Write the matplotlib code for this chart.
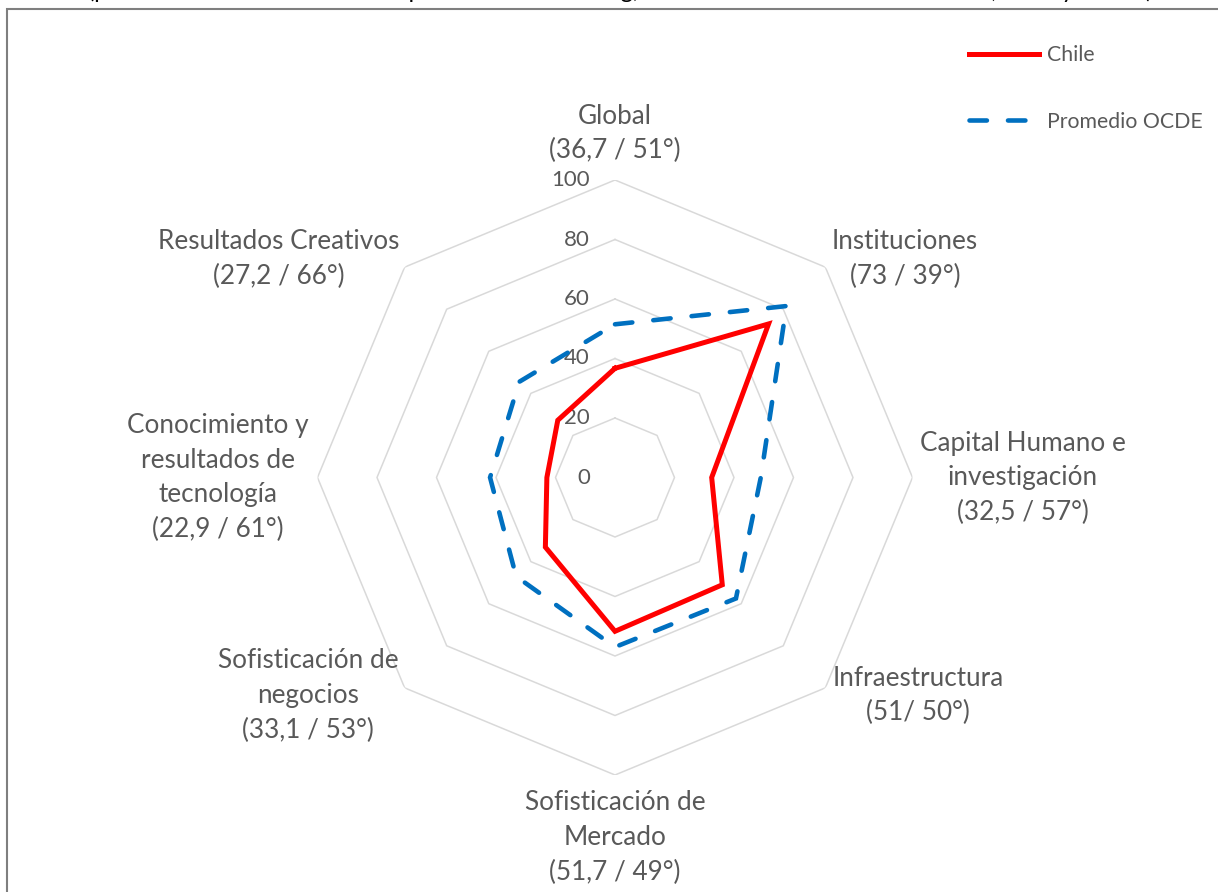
import numpy as np
import matplotlib
matplotlib.use("Agg")
import matplotlib.pyplot as plt
from matplotlib.patches import Rectangle
from matplotlib.lines import Line2D
from matplotlib import transforms

plt.rcParams['font.family'] = ['Lato', 'DejaVu Sans']

# ---- data ----
categories = [
    ["Global", "(36,7 / 51°)"],
    ["Instituciones", "(73 / 39°)"],
    ["Capital Humano e", "investigación", "(32,5 / 57°)"],
    ["Infraestructura", "(51/ 50°)"],
    ["Sofisticación de", "Mercado", "(51,7 / 49°)"],
    ["Sofisticación de", "negocios", "(33,1 / 53°)"],
    ["Conocimiento y", "resultados de", "tecnología", "(22,9 / 61°)"],
    ["Resultados Creativos", "(27,2 / 66°)"],
]
chile = [36.7, 73, 32.5, 51, 51.7, 33.1, 22.9, 27.2]
ocde = [51.5, 81.5, 49, 57.5, 57, 47, 42, 45.5]
series_names = ["Chile", "Promedio OCDE"]
rings = [20, 40, 60, 80, 100]
tick_values = [0, 20, 40, 60, 80, 100]
title_text = "(puntos obtenidos sobre 100 / posición en el ranking, Índice Global de Innovación 2019, Chile y OCDE)"

W, H = 1218, 892
fig = plt.figure(figsize=(W / 100, H / 100), dpi=100)

def fx(px):
    return px / W

def fy(py):
    return 1 - py / H

# frame
fig.patches.append(Rectangle((fx(7), -0.2), 1.5, fy(9) + 0.2, transform=fig.transFigure,
                             fill=False, edgecolor="#7F7F7F", linewidth=1.5, zorder=0))

# title (clipped at top, as in the source)
fig.text(fx(620), fy(-2), title_text, ha="center", va="baseline", fontsize=17, color="black")

# polar axes
cx, cy, R = 615, 477.5, 297.5
ax = fig.add_axes([fx(cx - R), fy(cy + R), 2 * R / W, 2 * R / H], projection="polar")
ax.set_theta_zero_location("N")
ax.set_theta_direction(-1)
ax.set_ylim(0, 100)
ax.set_axis_off()

n = len(categories)
theta = np.linspace(0, 2 * np.pi, n, endpoint=False)
theta_c = np.append(theta, theta[0])

for r in rings:
    ax.plot(theta_c, [r] * (n + 1), color="#D9D9D9", lw=1.1, zorder=1)

off = transforms.offset_copy(ax.transData, fig=fig, x=-25, y=0, units="dots")
for v in tick_values:
    ax.text(0, v, str(v), transform=off, ha="right", va="center", fontsize=16, color="#595959")

l1, = ax.plot(theta_c, chile + [chile[0]], color="#FF0000", lw=3.6, solid_joinstyle="miter",
              zorder=3, label=series_names[0])
l2, = ax.plot(theta_c, ocde + [ocde[0]], color="#0070C0", lw=3.3, dashes=(3.8, 4.6),
              dash_capstyle="round", dash_joinstyle="miter", zorder=4, label=series_names[1])

# category labels
label_pos = [(615, 133.5), (905, 259), (1023, 477.5), (918, 695.5),
             (615, 837.5), (308, 695.5), (218, 477.5), (279, 259)]
step = 34.5
for lines, (x, y) in zip(categories, label_pos):
    k = len(lines)
    for i, line in enumerate(lines):
        yy = y + (i - (k - 1) / 2) * step
        fig.text(fx(x), fy(yy), line, ha="center", va="center", fontsize=18.8, color="#595959")

# legend
leg = fig.legend(handles=[l1, l2], labels=series_names, loc="upper left",
                 bbox_to_anchor=(fx(969), fy(45)), frameon=False, fontsize=15.3,
                 handlelength=3.3, handletextpad=0.35, labelspacing=2.2,
                 borderpad=0, borderaxespad=0)
for t in leg.get_texts():
    t.set_color("#595959")

fig.savefig("out.png", dpi=100)
